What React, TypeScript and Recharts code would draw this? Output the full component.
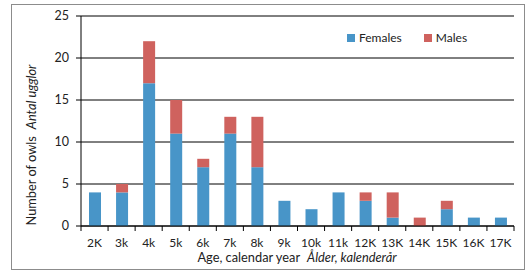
import React from 'react';
import { BarChart, Bar, XAxis, YAxis, CartesianGrid, Legend } from 'recharts';

// owls by age (calendar year), stacked females + males
const categories = ['2K', '3k', '4k', '5k', '6k', '7k', '8k', '9k', '10k', '11k', '12K', '13K', '14K', '15K', '16K', '17K'];
const females = [4, 4, 17, 11, 7, 11, 7, 3, 2, 4, 3, 1, 0, 2, 1, 1];
const males = [0, 1, 5, 4, 1, 2, 6, 0, 0, 0, 1, 3, 1, 1, 0, 0];
const yTicks = [0, 5, 10, 15, 20, 25];

const data = categories.map((age, i) => ({ age, Females: females[i], Males: males[i] }));

const BLUE = '#4895c8';
const RED = '#cf625e';
const FONT = "Lato, 'Open Sans', sans-serif";

// width of one category band (plot is 81..514)
const STEP = (514 - 81) / categories.length;

// label centred in the band, tick marks on the band edges
const AgeTick = ({ x, y, payload, index }: any) => {
  const top = y - 5;
  return (
    <g>
      <line x1={x - STEP / 2} x2={x - STEP / 2} y1={top} y2={top + 5} stroke="#000" />
      {index === categories.length - 1 && (
        <line x1={x + STEP / 2} x2={x + STEP / 2} y1={top} y2={top + 5} stroke="#000" />
      )}
      <text x={x} y={top + 21} textAnchor="middle" fontSize={12} fill="#222">
        {payload.value}
      </text>
    </g>
  );
};

const renderLegend = () => (
  <div style={{ display: 'flex', alignItems: 'center', fontSize: 12, color: '#222', fontFamily: FONT }}>
    <span style={{ width: 8, height: 8, background: BLUE, marginRight: 4 }} />
    <span style={{ marginRight: 22 }}>Females</span>
    <span style={{ width: 8, height: 8, background: RED, marginRight: 4 }} />
    <span>Males</span>
  </div>
);

export default function App() {
  return (
    <div style={{ position: 'absolute', left: 0, top: 0, width: 530, height: 273, fontFamily: FONT }}>
      <div
        style={{
          position: 'absolute', left: 11, top: 4, width: 514, height: 266,
          border: '1px solid #8c8c8c', boxSizing: 'border-box',
        }}
      />
      <BarChart
        width={530}
        height={273}
        data={data}
        margin={{ top: 16, right: 16, bottom: 17, left: 0 }}
        barSize={12}
      >
        <CartesianGrid vertical={false} stroke="#000" />
        <XAxis
          dataKey="age"
          height={30}
          axisLine={{ stroke: '#000' }}
          tickLine={false}
          tickSize={5}
          tickMargin={0}
          interval={0}
          tick={<AgeTick />}
          label={{
            content: () => (
              <text x={297} y={262} textAnchor="middle" fontSize={12.8} fill="#222">
                Age, calendar year
                <tspan dx={7} fontStyle="italic">Ålder, kalenderår</tspan>
              </text>
            ),
          }}
        />
        <YAxis
          width={81}
          domain={[0, 25]}
          ticks={yTicks}
          axisLine={{ stroke: '#000' }}
          tickLine={{ stroke: '#000' }}
          tickSize={5}
          tickMargin={7}
          tick={{ fontSize: 12.5, fill: '#222' }}
          label={{
            content: () => (
              <text transform="translate(36,145) rotate(-90)" textAnchor="middle" fontSize={12.8} fill="#222">
                Number of owls
                <tspan dx={7} fontStyle="italic">Antal ugglor</tspan>
              </text>
            ),
          }}
        />
        <Legend
          layout="vertical"
          verticalAlign="middle"
          align="center"
          content={renderLegend}
          wrapperStyle={{ position: 'absolute', left: 347, top: 30, width: 'auto' }}
        />
        <Bar dataKey="Females" stackId="a" fill={BLUE} isAnimationActive={false} />
        <Bar dataKey="Males" stackId="a" fill={RED} isAnimationActive={false} />
      </BarChart>
    </div>
  );
}
